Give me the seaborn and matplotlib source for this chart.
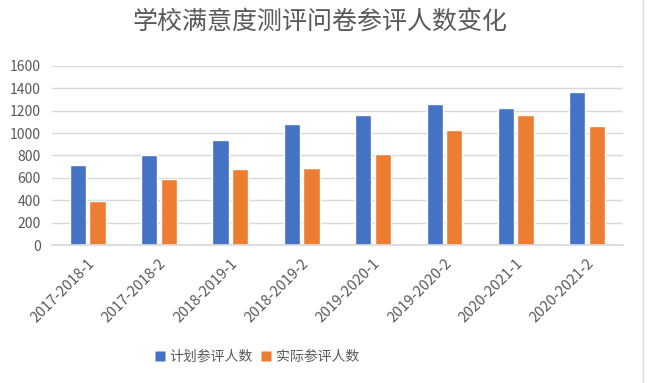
import matplotlib
matplotlib.use("Agg")
import matplotlib.pyplot as plt
import seaborn as sns
import pandas as pd
from matplotlib.lines import Line2D

categories = ["2017-2018-1", "2017-2018-2", "2018-2019-1", "2018-2019-2",
              "2019-2020-1", "2019-2020-2", "2020-2021-1", "2020-2021-2"]
planned = [715, 800, 940, 1080, 1160, 1260, 1220, 1370]
actual = [390, 590, 680, 690, 810, 1030, 1160, 1060]
series_names = ["计划参评人数", "实际参评人数"]
yticks = [0, 200, 400, 600, 800, 1000, 1200, 1400, 1600]

df = pd.DataFrame({
    "学期": categories * 2,
    "人数": planned + actual,
    "系列": [series_names[0]] * len(categories) + [series_names[1]] * len(categories),
})

sns.set_theme(style="white")
plt.rcParams["font.family"] = ["Noto Sans CJK SC", "DejaVu Sans"]

fig = plt.figure(figsize=(6.5, 3.83), dpi=100)
ax = fig.add_axes([0.08, 0.36, 0.878, 0.468])

sns.barplot(data=df, x="学期", y="人数", hue="系列",
            palette=["#4472C4", "#ED7D31"], saturation=1, width=0.55, gap=0.18,
            ax=ax, legend=True)

ax.set_ylim(0, 1600)
ax.set_yticks(yticks)
ax.set_xlim(-0.5, len(categories) - 0.5)
ax.yaxis.grid(True, color="#d9d9d9", linewidth=1)
ax.set_axisbelow(True)
for s in ["top", "right", "left"]:
    ax.spines[s].set_visible(False)
ax.spines["bottom"].set_color("#d9d9d9")
ax.set_xlabel("")
ax.set_ylabel("")
ax.tick_params(axis="both", length=0, colors="#595959", labelsize=10)
ax.tick_params(axis="x", labelsize=10.5, pad=8)
ax.tick_params(axis="y", pad=8)
plt.setp(ax.get_xticklabels(), rotation=45, ha="right", rotation_mode="anchor")

ax.legend_.remove()
fig.legend(handles=[Line2D([], [], marker="s", color="none", markerfacecolor="#4472C4",
                           markeredgecolor="none", markersize=7),
                    Line2D([], [], marker="s", color="none", markerfacecolor="#ED7D31",
                           markeredgecolor="none", markersize=7)],
           labels=series_names, loc="center", bbox_to_anchor=(0.395, 0.068),
           ncol=2, frameon=False, fontsize=10, labelcolor="#595959",
           handlelength=0.8, handletextpad=0.3, columnspacing=0.6)

fig.text(0.492, 0.943, "学校满意度测评问卷参评人数变化", ha="center", va="center",
         fontsize=18, color="#595959")

fig.add_artist(Line2D([643 / 650, 643 / 650], [0, 1], color="#d9d9d9", linewidth=1,
                      transform=fig.transFigure))

fig.savefig("out.png", dpi=100)
